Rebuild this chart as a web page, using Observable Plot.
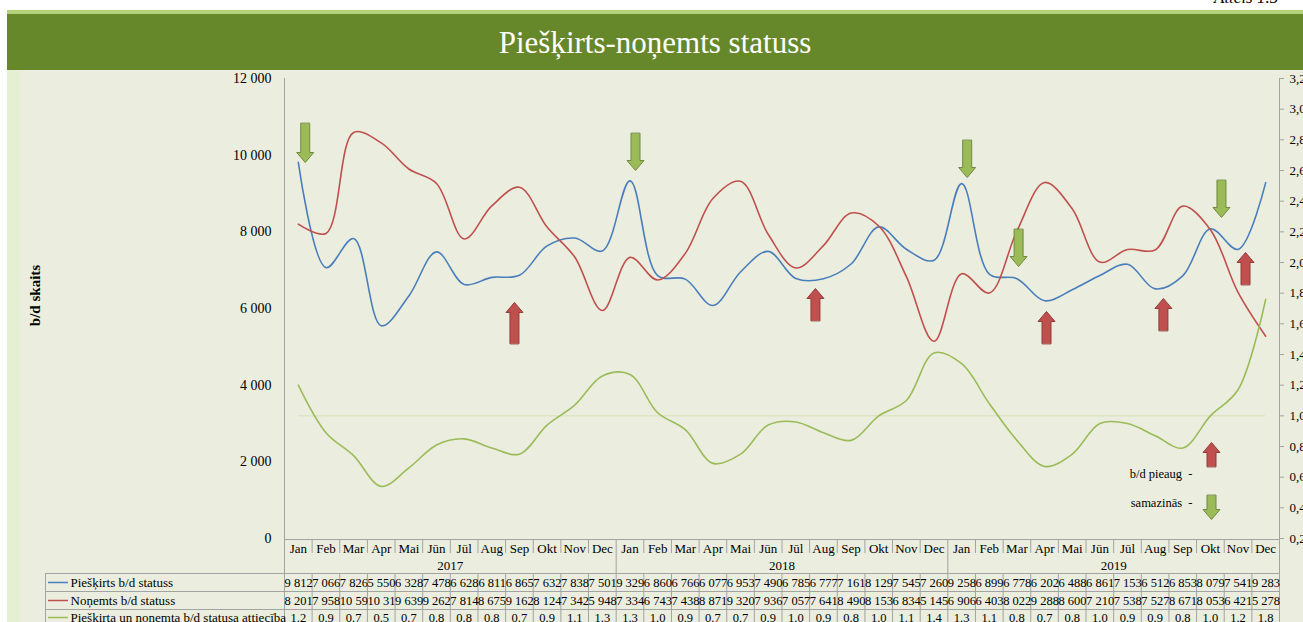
<!DOCTYPE html>
<html><head><meta charset="utf-8">
<script src="https://cdn.jsdelivr.net/npm/d3@7"></script>
<script src="https://cdn.jsdelivr.net/npm/@observablehq/plot@0.6"></script>
<style>
html,body{margin:0;padding:0;background:#fff;overflow:hidden;width:1303px;height:622px;}
#page{position:relative;width:1303px;height:622px;font-family:"Liberation Serif","Times New Roman",serif;overflow:hidden;}
#fig{position:absolute;left:1214px;top:-12px;font-style:italic;font-size:17px;color:#000;white-space:nowrap;}
#stripe{position:absolute;left:7px;top:10px;width:1296px;height:4px;background:#b4d27c;}
#band{position:absolute;left:7px;top:14px;width:1296px;height:56px;background:#67882a;color:#fff;font-size:31px;text-align:center;line-height:58px;}
#leftstrip{position:absolute;left:7px;top:70px;width:13px;height:552px;background:#e4efd4;}
#panel{position:absolute;left:20px;top:70px;width:1283px;height:552px;background:#ebeedf;}
#chart{position:absolute;left:0;top:70px;}
</style></head>
<body><div id="page">
<div id="fig">Attēls 1.5</div>
<div id="stripe"></div>
<div id="band">Piešķirts-noņemts statuss</div>
<div id="leftstrip"></div>
<div id="panel"></div>
<div id="chart"></div>
</div>
<script>
const months = ["Jan","Feb","Mar","Apr","Mai","Jūn","Jūl","Aug","Sep","Okt","Nov","Dec"];
const years = ["2017","2018","2019"];
const granted = [9812,7066,7826,5550,6328,7478,6628,6811,6865,7632,7838,7501,
                 9329,6860,6766,6077,6953,7490,6785,6777,7161,8129,7545,7260,
                 9258,6899,6778,6202,6488,6861,7153,6512,6853,8079,7541,9283];
const revoked = [8201,7958,10591,10319,9639,9262,7814,8675,9162,8124,7342,5948,
                 7334,6743,7438,8871,9320,7936,7057,7641,8490,8153,6834,5145,
                 6906,6403,8022,9288,8600,7210,7538,7527,8671,8053,6421,5278];
const ratio = [1.20,0.89,0.74,0.54,0.66,0.81,0.85,0.79,0.75,0.94,1.07,1.26,
               1.27,1.02,0.91,0.69,0.75,0.94,0.96,0.89,0.84,1.00,1.10,1.41,
               1.34,1.08,0.84,0.67,0.75,0.95,0.95,0.87,0.79,1.00,1.17,1.76];
const ratioLabels = ["1.2","0.9","0.7","0.5","0.7","0.8","0.8","0.8","0.7","0.9","1.1","1.3",
                     "1.3","1.0","0.9","0.7","0.7","0.9","1.0","0.9","0.8","1.0","1.1","1.4",
                     "1.3","1.1","0.8","0.7","0.8","1.0","0.9","0.9","0.8","1.0","1.2","1.8"];
const leftTicks = [0,2000,4000,6000,8000,10000,12000];
const rightTicks = [0.2,0.4,0.6,0.8,1.0,1.2,1.4,1.6,1.8,2.0,2.2,2.4,2.6,2.8,3.0,3.2];
const seriesNames = ["Piešķirts b/d statuss","Noņemts b/d statuss","Piešķirta un noņemta b/d statusa attiecība"];
// arrows: month index position, tip value and tail value (left axis units)
const upArrows = [
  {i:7.82, tip:6157, tail:5087},
  {i:18.71, tip:6522, tail:5687},
  {i:27.07, tip:5922, tail:5087},
  {i:31.3, tip:6261, tail:5426},
  {i:34.27, tip:7461, tail:6626},
  {i:33.04, tip:2504, tail:1878}
];
const downArrows = [
  {i:0.25, tip:9809, tail:10826},
  {i:12.2, tip:9600, tail:10565},
  {i:24.2, tip:9417, tail:10383},
  {i:26.06, tip:7096, tail:8061},
  {i:33.4, tip:8374, tail:9339},
  {i:33.04, tip:496, tail:1122}
];
const keyTexts = ["b/d pieaug  -", "samazinās  -"];

// layout
const W = 1303, H = 552, ML = 284, MR = 24, MT = 8, MB = 84;
const colW = (W - ML - MR) / 36;
const X = p => (p - ML) / colW - 0.5;                  // page x -> month index
const Y = p => (538 - p) * 12000 / (H - MT - MB);      // page y -> left-axis value
const toLeft = r => (r - 0.2) * 4000;                  // ratio -> left-axis units

const idx = d3.range(36);
const gridC = "#a3a3a3";
const colors = ["#4a7ebb", "#c0504d", "#9bbb59"];

const blockArrow = {
  draw(ctx, l) {
    const w = 4.5, h = 8.5, hl = 10;
    ctx.moveTo(-w, 0);
    ctx.lineTo(-w, -l + hl);
    ctx.lineTo(-h, -l + hl);
    ctx.lineTo(0, -l);
    ctx.lineTo(h, -l + hl);
    ctx.lineTo(w, -l + hl);
    ctx.lineTo(w, 0);
    ctx.closePath();
  }
};

const monthSep = idx.slice(1).filter(i => i !== 12 && i !== 24).map(i => i - 0.5);
const fmtLeft = d => d3.format(",")(d).replace(/,/g, " ");
const cellText = d => fmtLeft(d).slice(0, 5);   // narrow cells cut long numbers, as in the source table

const chart = Plot.plot({
  width: W, height: H,
  marginLeft: ML, marginRight: MR, marginTop: MT, marginBottom: MB,
  style: {fontFamily: "Liberation Serif, Times New Roman, serif", fontSize: "13px", background: "transparent", color: "#000", overflow: "visible"},
  x: {type: "linear", domain: [-0.5, 35.5], axis: null, label: null},
  y: {domain: [0, 12000], axis: null, label: null},
  length: {domain: [0, 12000], range: [0, H - MT - MB]},
  marks: [
    // axis lines
    Plot.ruleX([-0.5], {y1: 12000, y2: Y(622), stroke: gridC}),
    Plot.ruleX([35.5], {y1: 12000, y2: Y(622), stroke: gridC}),
    Plot.axisY(leftTicks, {anchor: "left", label: null, tickSize: 0, tickPadding: 13, tickFormat: fmtLeft, fontSize: 14}),
    Plot.axisY(rightTicks.map(toLeft), {anchor: "right", label: null, tickSize: 4, tickPadding: 6, stroke: gridC, tickFormat: v => (v / 4000 + 0.2).toFixed(1).replace(".", ","), fontSize: 13}),
    Plot.text(["b/d skaits"], {x: X(35), y: Y(295), rotate: -90, fontWeight: "bold", fontSize: 15}),
    // reference line for ratio 1
    Plot.ruleY([toLeft(1)], {x1: 0, x2: 35, stroke: "#d6e1b6", strokeWidth: 1}),
    // series
    Plot.line(idx, {x: i => i, y: i => granted[i], curve: "catmull-rom", stroke: colors[0], strokeWidth: 1.6}),
    Plot.line(idx, {x: i => i, y: i => revoked[i], curve: "catmull-rom", stroke: colors[1], strokeWidth: 1.6}),
    Plot.line(idx, {x: i => i, y: i => toLeft(ratio[i]), curve: "catmull-rom", stroke: colors[2], strokeWidth: 1.6}),
    // arrows
    Plot.vector(upArrows, {x: "i", y: "tip", length: d => d.tip - d.tail, rotate: 0, anchor: "end", shape: blockArrow, fill: "#c0504d", stroke: "#923c3a", strokeWidth: 1, strokeLinejoin: "miter"}),
    Plot.vector(downArrows, {x: "i", y: "tip", length: d => d.tail - d.tip, rotate: 180, anchor: "end", shape: blockArrow, fill: "#9bbb59", stroke: "#71893f", strokeWidth: 1, strokeLinejoin: "miter"}),
    Plot.text(keyTexts, {x: X(1192), y: (d, k) => Y(k === 0 ? 473 : 502), textAnchor: "end", fontSize: 12.5}),
    // category table: month & year rows
    Plot.ruleY([Y(539)], {x1: -0.5, x2: 35.5, stroke: gridC}),
    Plot.ruleX(monthSep, {y1: Y(539), y2: Y(553), stroke: gridC}),
    Plot.ruleX([11.5, 23.5], {y1: Y(539), y2: Y(573), stroke: gridC}),
    Plot.text(idx, {x: i => i, y: Y(548), text: i => months[i % 12], fontSize: 13}),
    Plot.text(years, {x: (d, k) => k * 12 + 5.5, y: Y(565), text: d => d, fontSize: 13}),
    // data table
    Plot.ruleY([Y(573), Y(591), Y(609)], {x1: X(45), x2: 35.5, stroke: gridC}),
    Plot.ruleX([X(45), ...idx.map(i => i - 0.5)], {y1: Y(573), y2: Y(622), stroke: gridC}),
    Plot.ruleY(seriesNames, {y: (d, k) => Y([582, 600, 617][k]), x1: X(48), x2: X(68), stroke: (d, k) => colors[k], strokeWidth: 1.5}),
    Plot.text(seriesNames, {x: X(70), y: (d, k) => Y([582, 600, 617][k]), textAnchor: "start", fontSize: 13}),
    Plot.text(idx, {x: i => i + 0.5, y: Y(582), text: i => cellText(granted[i]), textAnchor: "end", dx: 0.5, fontSize: 12.5}),
    Plot.text(idx, {x: i => i + 0.5, y: Y(600), text: i => cellText(revoked[i]), textAnchor: "end", dx: 0.5, fontSize: 12.5}),
    Plot.text(idx, {x: i => i, y: Y(617), text: i => ratioLabels[i], fontSize: 12.5})
  ]
});
document.getElementById("chart").append(chart);
</script>
</body></html>
